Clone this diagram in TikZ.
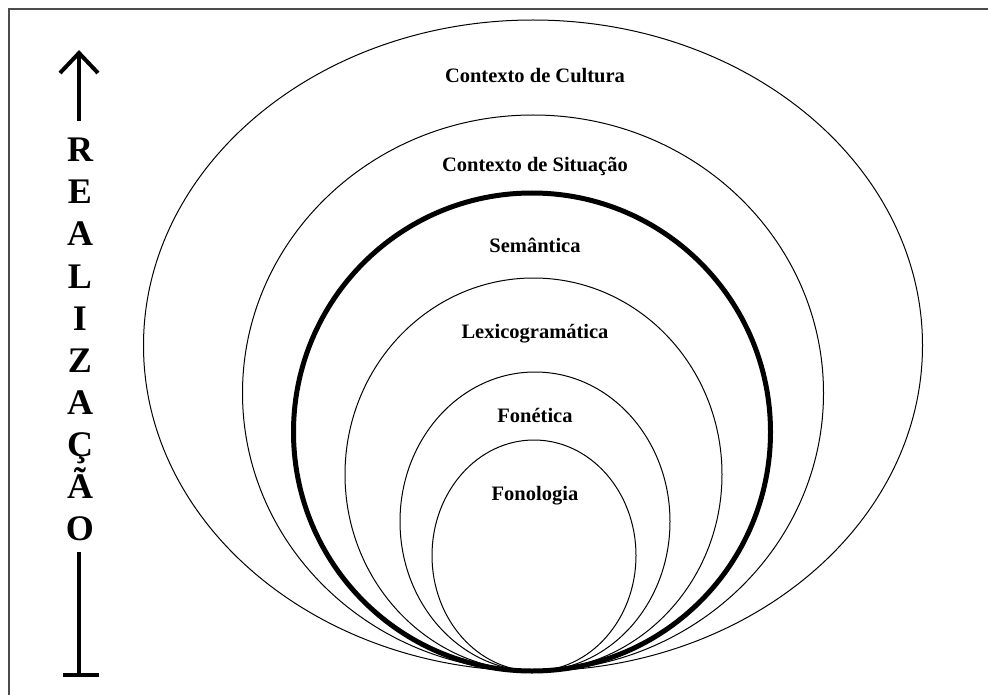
\documentclass[tikz,border=0pt]{standalone}
\usepackage{fontspec}
\setmainfont{Liberation Serif}
\begin{document}
\begin{tikzpicture}[x=1pt,y=-1pt,
  ring/.style={draw=black, line width=1pt},
  corering/.style={draw=black, line width=5pt},
  lbl/.style={font=\fontsize{20.5}{24}\selectfont\bfseries, inner sep=0pt, anchor=base},
  letter/.style={font=\fontsize{36}{40}\selectfont\bfseries, inner sep=0pt, anchor=base},
  bar/.style={draw=black, line width=4pt}]
\useasboundingbox (0,0) rectangle (988,695);

% frame (top and left edges)
\draw[line width=1.2pt, black!70] (9,695) -- (9,9) -- (988,9);

% nested strata, all touching at the bottom
\draw[ring] (533,345.5) ellipse [x radius=389.5pt, y radius=325.5pt];
\draw[ring] (533,393) ellipse [x radius=290.5pt, y radius=278pt];
\draw[corering] (532,432) ellipse [x radius=238.5pt, y radius=239pt];
\draw[ring] (533.5,474.5) ellipse [x radius=188.5pt, y radius=196.5pt];
\draw[ring] (535,521.5) ellipse [x radius=135pt, y radius=149.5pt];
\draw[ring] (534,555.5) ellipse [x radius=102pt, y radius=115.5pt];

% stratum names
\node[lbl] (cultura) at (535,83) {Contexto de Cultura};
\node[lbl] (situacao) at (535,172) {Contexto de Situação};
\node[lbl] (semantica) at (535,252) {Semântica};
\node[lbl] (lexico) at (535,338) {Lexicogramática};
\node[lbl] (fonetica) at (535,422) {Fonética};
\node[lbl] (fonologia) at (535,500) {Fonologia};

% vertical label
\foreach \c [count=\i] in {R,E,A,L,I,Z,A,Ç,Ã,O}
  \node[letter] (r\i) at (80,{162+42*(\i-1)}) {\c};

% realisation arrow: open head above, stop bar below
\coordinate (upfoot) at (79,121);
\coordinate (uptip) at (79,53);
\coordinate (headl) at (60,73);
\coordinate (headr) at (98,73);
\draw[bar] (upfoot) -- (uptip);
\draw[bar, line join=miter] (headl) -- (uptip) -- (headr);

\coordinate (downtop) at (79,552);
\coordinate (downfoot) at (79,675);
\coordinate (stopl) at (63,675);
\coordinate (stopr) at (99,675);
\draw[bar] (downtop) -- (downfoot);
\draw[bar] (stopl) -- (stopr);
\end{tikzpicture}
\end{document}
